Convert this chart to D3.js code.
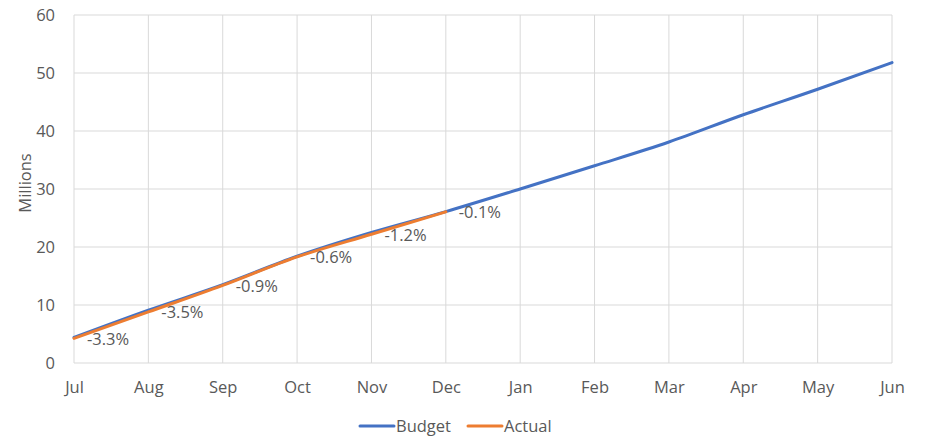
<!DOCTYPE html>
<html>
<head>
<meta charset="utf-8">
<script src="https://cdn.jsdelivr.net/npm/d3@7"></script>
<style>
  body { margin: 0; background: #fff; }
  text { font-family: "Open Sans", "Liberation Sans", sans-serif; fill: #595959; }
</style>
</head>
<body>
<div id="chart"></div>
<script>
var months = ["Jul", "Aug", "Sep", "Oct", "Nov", "Dec", "Jan", "Feb", "Mar", "Apr", "May", "Jun"],
    budget = [4.4, 9.1, 13.5, 18.4, 22.5, 26.1, 30.0, 34.0, 38.1, 42.8, 47.2, 51.8],
    actual = [4.25, 8.8, 13.38, 18.3, 22.2, 26.07],
    variance = ["-3.3%", "-3.5%", "-0.9%", "-0.6%", "-1.2%", "-0.1%"],
    yTicks = [0, 10, 20, 30, 40, 50, 60];

var width = 925, height = 438;
var margin = { top: 15, right: 33, bottom: 75, left: 74 };
var innerW = width - margin.left - margin.right,
    innerH = height - margin.top - margin.bottom;

var svg = d3.select("#chart").append("svg")
    .attr("width", width)
    .attr("height", height);

var g = svg.append("g")
    .attr("transform", "translate(" + margin.left + "," + margin.top + ")");

var x = d3.scalePoint().domain(months).range([0, innerW]);
var y = d3.scaleLinear().domain([0, 60]).range([innerH, 0]);

// grid
g.selectAll(".hgrid").data(yTicks).enter().append("line")
    .attr("x1", 0).attr("x2", innerW)
    .attr("y1", function (d) { return y(d); })
    .attr("y2", function (d) { return y(d); })
    .attr("stroke", "#d9d9d9").attr("stroke-width", 1);

g.selectAll(".vgrid").data(months).enter().append("line")
    .attr("x1", function (d) { return x(d); })
    .attr("x2", function (d) { return x(d); })
    .attr("y1", 0).attr("y2", innerH)
    .attr("stroke", "#d9d9d9").attr("stroke-width", 1);

// axes
var yAxis = g.append("g")
    .call(d3.axisLeft(y).tickValues(yTicks).tickSize(0).tickPadding(19));
yAxis.select(".domain").remove();
yAxis.selectAll("text").style("font-size", "16.5px").attr("fill", "#595959");

var xAxis = g.append("g")
    .attr("transform", "translate(0," + innerH + ")")
    .call(d3.axisBottom(x).tickSize(0).tickPadding(18));
xAxis.select(".domain").remove();
xAxis.selectAll("text").style("font-size", "16.5px").attr("fill", "#595959");

svg.append("text")
    .attr("transform", "translate(31,183) rotate(-90)")
    .attr("text-anchor", "middle")
    .style("font-size", "16.5px")
    .text("Millions");

// lines
var line = d3.line()
    .x(function (d, i) { return x(months[i]); })
    .y(function (d) { return y(d); })
    .curve(d3.curveMonotoneX);

g.append("path").datum(budget)
    .attr("d", line)
    .attr("fill", "none")
    .attr("stroke", "#4472c4")
    .attr("stroke-width", 3)
    .attr("stroke-linecap", "round");

g.append("path").datum(actual)
    .attr("d", line)
    .attr("fill", "none")
    .attr("stroke", "#ed7d31")
    .attr("stroke-width", 3)
    .attr("stroke-linecap", "round");

// data labels
g.selectAll(".lbl").data(actual).enter().append("text")
    .attr("x", function (d, i) { return x(months[i]) + 13; })
    .attr("y", function (d) { return y(d) + 6.5; })
    .style("font-size", "16.5px")
    .text(function (d, i) { return variance[i]; });

// legend
var legend = svg.append("g").attr("transform", "translate(360,426)");
var items = [{ name: "Budget", color: "#4472c4", x: 0 }, { name: "Actual", color: "#ed7d31", x: 108 }];
var li = legend.selectAll("g").data(items).enter().append("g")
    .attr("transform", function (d) { return "translate(" + d.x + ",0)"; });
li.append("line")
    .attr("x1", 0).attr("x2", 34)
    .attr("stroke", function (d) { return d.color; })
    .attr("stroke-width", 3)
    .attr("stroke-linecap", "round");
li.append("text")
    .attr("x", 36).attr("y", 6)
    .style("font-size", "16.5px")
    .text(function (d) { return d.name; });
</script>
</body>
</html>
